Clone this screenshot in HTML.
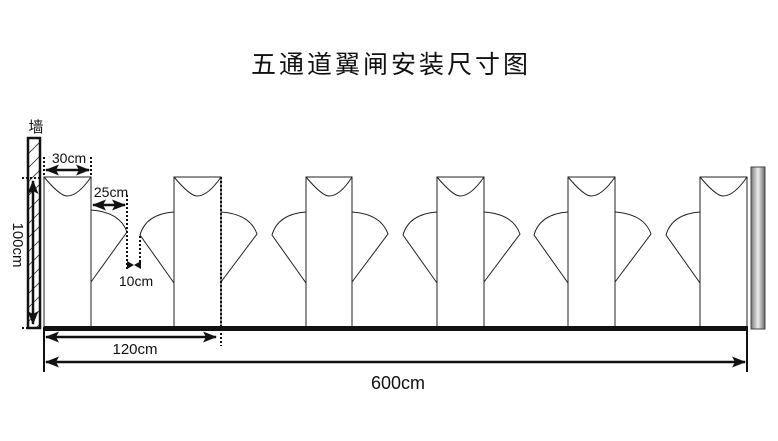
<!DOCTYPE html>
<html><head><meta charset="utf-8"><style>
html,body{margin:0;padding:0;background:#fff;}
svg{display:block;}
text{font-family:"Liberation Sans","Noto Sans CJK SC",sans-serif;fill:#111;}
</style></head><body>
<svg width="778" height="441" viewBox="0 0 778 441" xmlns="http://www.w3.org/2000/svg">
<defs>
<marker id="ahs" markerWidth="14" markerHeight="11" refX="13" refY="5.5" orient="auto-start-reverse" markerUnits="userSpaceOnUse"><path d="M0,0 L14,5.5 L0,11 L3,5.5 z" fill="#111"/></marker>
<linearGradient id="pg" x1="0" x2="1"><stop offset="0" stop-color="#777"/><stop offset="0.5" stop-color="#eee"/><stop offset="1" stop-color="#666"/></linearGradient>
<pattern id="hatch" width="14" height="14" patternUnits="userSpaceOnUse"><path d="M0,14 L14,0" stroke="#333" stroke-width="0.8"/></pattern>
</defs>
<text x="391" y="73" font-size="25" text-anchor="middle" letter-spacing="3">五通道翼闸安装尺寸图</text>

<text x="36" y="132" font-size="15" text-anchor="middle">墙</text>
<rect x="28" y="138" width="12" height="190" fill="url(#hatch)" stroke="#111" stroke-width="2.5"/>

<rect x="751" y="167" width="14" height="162" fill="url(#pg)" stroke="#444" stroke-width="1"/>

<g fill="#fff" stroke="#222" stroke-width="1">
<rect x="44" y="177" width="47" height="150"/>
<rect x="174" y="177" width="47" height="150"/>
<rect x="306" y="177" width="46" height="150"/>
<rect x="437" y="177" width="47" height="150"/>
<rect x="568" y="177" width="47" height="150"/>
<rect x="700" y="177" width="47" height="150"/>
</g>
<g fill="none" stroke="#222" stroke-width="1">
<path d="M44,177 Q60,196 67,196 Q78,196 91,177"/>
<path d="M174,177 Q190,196 197,196 Q208,196 221,177"/>
<path d="M306,177 Q322,196 329,196 Q340,196 352,177"/>
<path d="M437,177 Q453,196 460,196 Q471,196 484,177"/>
<path d="M568,177 Q584,196 591,196 Q602,196 615,177"/>
<path d="M700,177 Q716,196 723,196 Q734,196 747,177"/>
<path d="M91,210 Q120,212 127,232 L91,282"/>
<path d="M221,212 Q250,214 257,234 L221,282"/>
<path d="M352,212 Q381,214 388,234 L352,282"/>
<path d="M484,212 Q513,214 520,234 L484,282"/>
<path d="M615,212 Q644,214 651,234 L615,282"/>
<path d="M174,212 Q146,214 140,235 L174,283"/>
<path d="M306,212 Q278,214 272,235 L306,283"/>
<path d="M437,212 Q409,214 403,235 L437,283"/>
<path d="M568,212 Q540,214 534,235 L568,283"/>
<path d="M700,212 Q672,214 666,235 L700,283"/>
</g>

<rect x="44" y="326" width="704" height="5" fill="#111"/>

<g stroke="#111" stroke-width="2" stroke-dasharray="2,2" fill="none">
<line x1="44" y1="157" x2="44" y2="177"/>
<line x1="91" y1="157" x2="91" y2="177"/>
<line x1="127" y1="195" x2="127" y2="270"/>
<line x1="140" y1="236" x2="140" y2="268"/>
<line x1="221" y1="177" x2="221" y2="346"/>
<line x1="22" y1="178" x2="42" y2="178"/>
<line x1="22" y1="328" x2="28" y2="328"/>
</g>

<g stroke="#111" stroke-width="2.5" fill="none">
<line x1="46" y1="170" x2="89" y2="170" marker-start="url(#ahs)" marker-end="url(#ahs)"/>
<line x1="93" y1="205" x2="125" y2="205" marker-start="url(#ahs)" marker-end="url(#ahs)"/>
<line x1="33" y1="181" x2="33" y2="324" marker-start="url(#ahs)" marker-end="url(#ahs)"/>
<line x1="46" y1="337" x2="216" y2="337" marker-start="url(#ahs)" marker-end="url(#ahs)"/>
<line x1="46" y1="362" x2="745" y2="362" marker-start="url(#ahs)" marker-end="url(#ahs)"/>
</g>
<path d="M127,261 L134,265 L127,269 z M141,261 L134,265 L141,269 z" fill="#111"/>
<line x1="44" y1="327" x2="44" y2="372" stroke="#111" stroke-width="2"/>
<line x1="747" y1="327" x2="747" y2="372" stroke="#111" stroke-width="2"/>

<text x="69" y="163" font-size="14" text-anchor="middle">30cm</text>
<text x="111" y="197" font-size="14" text-anchor="middle">25cm</text>
<text x="136" y="286" font-size="14" text-anchor="middle">10cm</text>
<text x="135" y="354" font-size="15" text-anchor="middle">120cm</text>
<text x="398" y="389" font-size="18" text-anchor="middle">600cm</text>
<text x="0" y="0" font-size="15" text-anchor="middle" transform="translate(13,245) rotate(90)">100cm</text>
</svg>
</body></html>
